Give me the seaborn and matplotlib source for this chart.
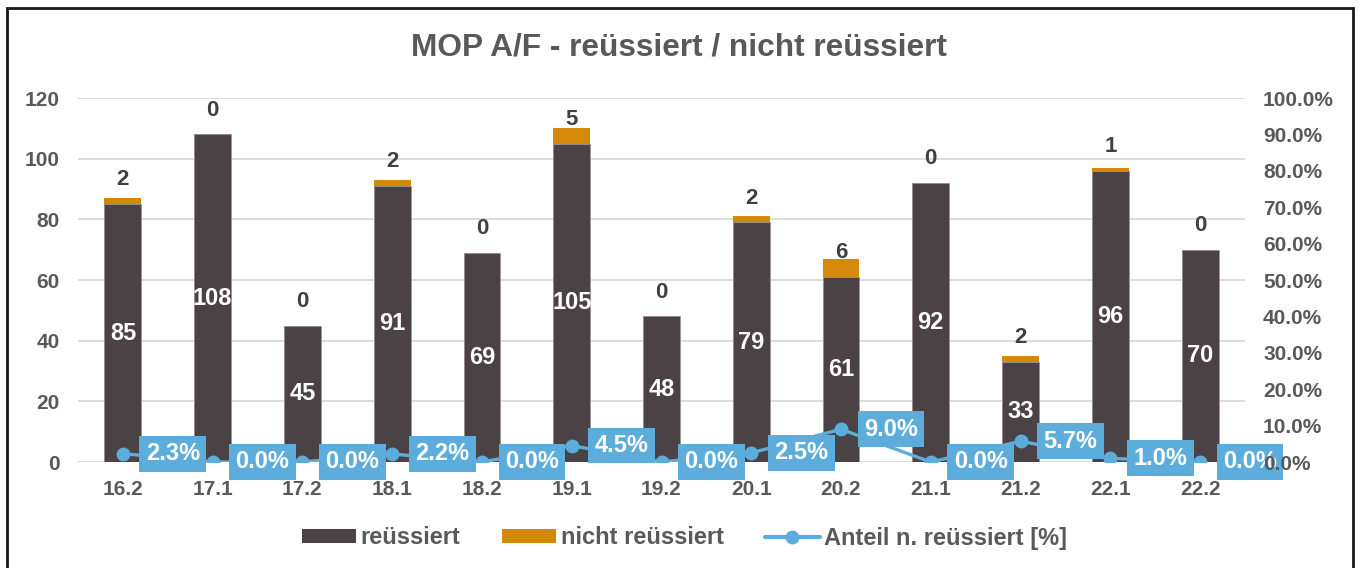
import numpy as np
import pandas as pd
import matplotlib
matplotlib.use("Agg")
import matplotlib.pyplot as plt
import seaborn as sns
from matplotlib.patches import Patch, Rectangle
from matplotlib.lines import Line2D
from matplotlib.ticker import PercentFormatter, MultipleLocator

# ---- data ----
periods = ["16.2", "17.1", "17.2", "18.1", "18.2", "19.1", "19.2",
           "20.1", "20.2", "21.1", "21.2", "22.1", "22.2"]
reussiert = [85, 108, 45, 91, 69, 105, 48, 79, 61, 92, 33, 96, 70]
nicht_reussiert = [2, 0, 0, 2, 0, 5, 0, 2, 6, 0, 2, 1, 0]
anteil_pct = [2.3, 0.0, 0.0, 2.2, 0.0, 4.5, 0.0, 2.5, 9.0, 0.0, 5.7, 1.0, 0.0]

title = "MOP A/F - reüssiert / nicht reüssiert"
lbl_r = "reüssiert"
lbl_n = "nicht reüssiert"
lbl_a = "Anteil n. reüssiert [%]"

# ---- style ----
C_DARK = "#4B4246"
C_ORANGE = "#D4890A"
C_BLUE = "#5DADDC"
C_TEXT = "#595959"
C_LABEL = "#404040"
C_GRID = "#D9D9D9"

sns.set_theme(style="white")
plt.rcParams["font.family"] = ["Liberation Sans", "DejaVu Sans"]
plt.rcParams["font.weight"] = "bold"

df = pd.DataFrame({
    "period": periods,
    "reussiert": reussiert,
    "nicht": nicht_reussiert,
    "anteil": np.array(anteil_pct) / 100.0,
})
df["total"] = df["reussiert"] + df["nicht"]
df["pos"] = np.arange(len(df))

fig = plt.figure(figsize=(13.58, 5.68), dpi=100)
ax = fig.add_axes([78 / 1358, 1 - 462 / 568, (1245 - 78) / 1358, (462 - 98) / 568])

# stacked bars: total (orange) underneath, reüssiert (dark) on top
sns.barplot(data=df, x="period", y="total", color=C_ORANGE, saturation=1,
            width=0.41, errorbar=None, ax=ax, edgecolor="none", zorder=2)
sns.barplot(data=df, x="period", y="reussiert", color=C_DARK, saturation=1,
            width=0.41, errorbar=None, ax=ax, edgecolor="#9a9496",
            linewidth=0.6, zorder=3)

ax.set_ylim(0, 120)
ax.set_xlim(-0.5, len(df) - 0.5)
ax.yaxis.set_major_locator(MultipleLocator(20))
ax.grid(axis="y", color=C_GRID, linewidth=1.3)
ax.set_axisbelow(True)
for s in ax.spines.values():
    s.set_visible(False)
ax.set_xlabel("")
ax.set_ylabel("")
ax.tick_params(axis="both", length=0, labelsize=15, labelcolor=C_TEXT)
ax.tick_params(axis="y", pad=13)
ax.tick_params(axis="x", pad=13)
for t in ax.get_xticklabels() + ax.get_yticklabels():
    t.set_fontweight("bold")

# labels inside dark bars and above the stack
for i, row in df.iterrows():
    ax.annotate(f"{row['reussiert']}", xy=(row["pos"], row["reussiert"] / 2),
                ha="center", va="center", color="white", fontsize=17,
                fontweight="bold", zorder=5)
    ax.annotate(f"{row['nicht']}", xy=(row["pos"], row["reussiert"]),
                xytext=(0, 17.5), textcoords="offset points",
                ha="center", va="center", color=C_LABEL, fontsize=16,
                fontweight="bold", zorder=5)

# secondary axis: share line
ax2 = ax.twinx()
sns.lineplot(data=df, x="pos", y="anteil", ax=ax2, color=C_BLUE, linewidth=2.4,
             marker="o", markersize=10, markeredgewidth=0, sort=False, zorder=1.2)
ax2.set_ylim(0, 1.0)
ax2.set_xlim(-0.5, len(df) - 0.5)
ax2.yaxis.set_major_locator(MultipleLocator(0.1))
ax2.yaxis.set_major_formatter(PercentFormatter(xmax=1.0, decimals=1))
ax2.grid(False)
for s in ax2.spines.values():
    s.set_visible(False)
ax2.set_xlabel("")
ax2.set_ylabel("")
ax2.set_axisbelow(False)
ax2.tick_params(axis="y", length=0, labelsize=15, labelcolor=C_TEXT, pad=13)
for t in ax2.get_yticklabels():
    t.set_fontweight("bold")

for i, row in df.iterrows():
    ax2.annotate(f"{row['anteil'] * 100:.1f}%", xy=(row["pos"], row["anteil"]),
                 xytext=(16.5, 0), textcoords="offset points",
                 ha="left", va="center", color="white", fontsize=17,
                 fontweight="bold", annotation_clip=False, zorder=2,
                 bbox=dict(boxstyle="square,pad=0.27", fc=C_BLUE, ec="none"))

# title
fig.text(0.5, 1 - 47 / 568, title, ha="center", va="center",
         fontsize=22.8, fontweight="bold", color=C_TEXT)

# legend
handles = [
    Patch(facecolor=C_DARK, edgecolor="none", label=lbl_r),
    Patch(facecolor=C_ORANGE, edgecolor="none", label=lbl_n),
    Line2D([0], [0], color=C_BLUE, linewidth=3, marker="o", markersize=10,
           markeredgewidth=0, label=lbl_a),
]
leg = fig.legend(handles=handles, loc="center", bbox_to_anchor=(0.504, 1 - 538 / 568),
                 ncol=3, frameon=False, fontsize=17, handlelength=2.3,
                 handleheight=0.55, handletextpad=0.2, columnspacing=1.75)
for t in leg.get_texts():
    t.set_color(C_TEXT)
    t.set_fontweight("bold")

# outer border
fig.patches.append(Rectangle((7 / 1358, -0.02), (1353 - 7) / 1358, 1.02 - 8 / 568,
                             transform=fig.transFigure, fill=False,
                             edgecolor="#1a1a1a", linewidth=2, zorder=10))

fig.savefig("out.png", dpi=100)
